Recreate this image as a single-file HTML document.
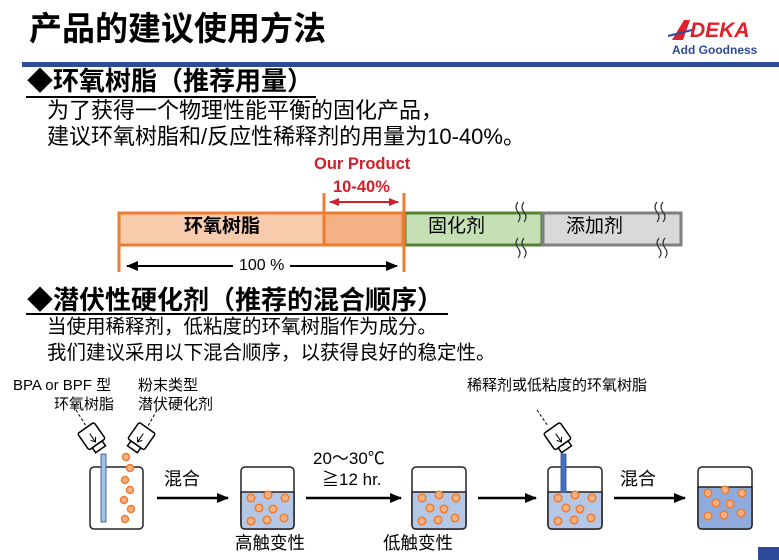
<!DOCTYPE html>
<html><head><meta charset="utf-8"><style>
body{margin:0;width:779px;height:560px;background:#fff;overflow:hidden;position:relative;font-family:"Liberation Sans","Noto Sans CJK SC",sans-serif;color:#000}
.t{position:absolute;white-space:nowrap;line-height:1;z-index:2}
svg{position:absolute;left:0;top:0;z-index:1}
</style></head><body>
<svg width="779" height="560">
<defs><marker id="a" markerUnits="userSpaceOnUse" markerWidth="12" markerHeight="12" refX="11" refY="6" orient="auto"><path d="M0,1L12,6L0,11z" fill="#000"/></marker>
<marker id="as" markerUnits="userSpaceOnUse" markerWidth="12" markerHeight="12" refX="1" refY="6" orient="auto"><path d="M12,1L0,6L12,11z" fill="#000"/></marker>
<marker id="r" markerUnits="userSpaceOnUse" markerWidth="10" markerHeight="10" refX="9" refY="5" orient="auto"><path d="M0,1L10,5L0,9z" fill="#d0202a"/></marker>
<marker id="rs" markerUnits="userSpaceOnUse" markerWidth="10" markerHeight="10" refX="1" refY="5" orient="auto"><path d="M10,1L0,5L10,9z" fill="#d0202a"/></marker>
<g id="d"><circle cx="10" cy="31" r="3.8"/><circle cx="27" cy="28" r="3.8"/><circle cx="44" cy="31" r="3.8"/><circle cx="18" cy="41" r="3.8"/><circle cx="32" cy="42" r="3.8"/><circle cx="10" cy="54" r="3.8"/><circle cx="26" cy="53" r="3.8"/><circle cx="43" cy="51" r="3.8"/></g>
</defs>
<path d="M672,40 L684,20 L690,20 L683,40 Z" fill="#e0202a"/>
<path d="M668,36 L692,30" stroke="#2e4a9a" stroke-width="2"/>
<rect x="119" y="213" width="205" height="32" fill="#f8cbad" stroke="#ed7d31" stroke-width="3"/>
<rect x="324" y="213" width="79" height="32" fill="#f4b183" stroke="#ed7d31" stroke-width="3"/>
<rect x="405" y="213" width="137" height="32" fill="#c5e0b4" stroke="#548235" stroke-width="3"/>
<rect x="543" y="213" width="138" height="32" fill="#d9d9d9" stroke="#7f7f7f" stroke-width="3"/>
<g stroke="#ed7d31" stroke-width="3"><line x1="119" y1="245" x2="119" y2="272"/><line x1="324" y1="193" x2="324" y2="245"/><line x1="404" y1="193" x2="404" y2="272"/></g>
<line x1="330" y1="202" x2="398" y2="202" stroke="#d0202a" stroke-width="2" marker-end="url(#r)" marker-start="url(#rs)"/>
<line x1="127" y1="266" x2="397" y2="266" stroke="#000" stroke-width="2" marker-end="url(#a)" marker-start="url(#as)"/>
<g fill="none" stroke="#333" stroke-width="1.2">
<path d="M518,202 q-4,5 0,10 q4,5 0,10 M524,202 q-4,5 0,10 q4,5 0,10"/>
<path d="M518,238 q-4,5 0,10 q4,5 0,10 M524,238 q-4,5 0,10 q4,5 0,10"/>
<path d="M657,202 q-4,5 0,10 q4,5 0,10 M663,202 q-4,5 0,10 q4,5 0,10"/>
<path d="M659,238 q-4,5 0,10 q4,5 0,10 M665,238 q-4,5 0,10 q4,5 0,10"/></g>
<g stroke="#000" stroke-width="1.5" fill="#fff">
<g transform="translate(92,437) rotate(-35)"><rect x="-10" y="-11" width="20" height="20" rx="2"/><rect x="-6" y="9" width="12" height="6"/><path d="M0,-4L0,5M-3,2L0,6L3,2" fill="none" stroke-width="1"/></g>
<g transform="translate(141,437) rotate(35)"><rect x="-10" y="-11" width="20" height="20" rx="2"/><rect x="-6" y="9" width="12" height="6"/><path d="M0,-4L0,5M-3,2L0,6L3,2" fill="none" stroke-width="1"/></g>
<g transform="translate(558,437) rotate(-35)"><rect x="-10" y="-11" width="20" height="20" rx="2"/><rect x="-6" y="9" width="12" height="6"/><path d="M0,-4L0,5M-3,2L0,6L3,2" fill="none" stroke-width="1"/></g>
</g>
<g stroke="#000" stroke-dasharray="3,2" stroke-width="1"><line x1="76" y1="410" x2="86" y2="426"/><line x1="157" y1="410" x2="148" y2="426"/><line x1="537" y1="410" x2="548" y2="426"/></g>
<rect x="90" y="467" width="53" height="62" rx="4" fill="#fff" stroke="#222" stroke-width="1.5"/>
<rect x="101" y="454" width="5" height="68" fill="#9dc3e6" stroke="#2e4a9a" stroke-width="0.8"/>
<g fill="#f4b183" stroke="#ed7d31" stroke-width="1.5">
<circle cx="126" cy="457" r="3.5"/><circle cx="130" cy="468" r="3.5"/><circle cx="125" cy="480" r="3.5"/><circle cx="130" cy="490" r="3.5"/><circle cx="124" cy="500" r="3.5"/><circle cx="131" cy="509" r="3.5"/><circle cx="125" cy="519" r="3.5"/></g>
<g stroke="#222" stroke-width="1.5">
<rect x="241" y="467" width="53" height="62" rx="4" fill="#fff"/><path d="M241,492 H294 V525 q0,4 -4,4 H245 q-4,0 -4,-4Z" fill="#b4c7e7"/>
<rect x="412" y="467" width="54" height="62" rx="4" fill="#fff"/><path d="M412,492 H466 V525 q0,4 -4,4 H416 q-4,0 -4,-4Z" fill="#b4c7e7"/>
<rect x="548" y="467" width="54" height="62" rx="4" fill="#fff"/><path d="M548,492 H602 V525 q0,4 -4,4 H552 q-4,0 -4,-4Z" fill="#b4c7e7"/>
<rect x="698" y="467" width="54" height="62" rx="4" fill="#fff"/><path d="M698,487 H752 V525 q0,4 -4,4 H702 q-4,0 -4,-4Z" fill="#8faadc"/>
</g>
<rect x="561" y="454" width="5" height="38" fill="#4472c4" stroke="#2e4a9a" stroke-width="0.8"/>
<g fill="#f4b183" stroke="#ed7d31" stroke-width="1.5">
<use href="#d" x="241" y="467"/><use href="#d" x="412" y="467"/><use href="#d" x="548" y="467"/><use href="#d" x="698" y="462"/>
</g>
<g stroke="#000" stroke-width="2.5"><line x1="157" y1="498" x2="228" y2="498" marker-end="url(#a)"/><line x1="306" y1="498" x2="401" y2="498" marker-end="url(#a)"/><line x1="478" y1="498" x2="536" y2="498" marker-end="url(#a)"/><line x1="614" y1="498" x2="685" y2="498" marker-end="url(#a)"/></g>
</svg>
<div class="t" style="left:29px;top:12px;font-size:33px;font-weight:bold">产品的建议使用方法</div>
<div class="t" style="left:672px;top:44px;font-size:12px;font-weight:bold;color:#2e4a9a">Add Goodness</div>
<div class="t" style="left:690px;top:20px;font-size:21px;font-weight:bold;font-style:italic;color:#e0202a">DEKA</div>
<div style="position:absolute;left:22px;top:62px;width:757px;height:5px;background:#2e4a9a"></div>
<div class="t" style="left:27px;top:68px;font-size:26px;font-weight:bold">◆环氧树脂（推荐用量）</div>
<div style="position:absolute;left:26px;top:96px;width:290px;height:2px;background:#000"></div>
<div class="t" style="left:47px;top:100px;font-size:22px">为了获得一个物理性能平衡的固化产品，</div>
<div class="t" style="left:47px;top:126px;font-size:22px">建议环氧树脂和/反应性稀释剂的用量为10-40%。</div>
<div class="t" style="left:314px;top:156px;font-size:16.5px;font-weight:bold;color:#d0202a">Our Product</div>
<div class="t" style="left:333px;top:179px;font-size:16.5px;font-weight:bold;color:#d0202a">10-40%</div>
<div class="t" style="left:184px;top:217px;font-size:19px;font-weight:bold">环氧树脂</div>
<div class="t" style="left:428px;top:217px;font-size:19px">固化剂</div>
<div class="t" style="left:566px;top:217px;font-size:19px">添加剂</div>
<div class="t" style="left:233px;top:258px;font-size:16px;background:#fff;padding:0 6px">100 %</div>
<div class="t" style="left:27px;top:287px;font-size:26px;font-weight:bold">◆潜伏性硬化剂（推荐的混合顺序）</div>
<div style="position:absolute;left:26px;top:313px;width:422px;height:2px;background:#000"></div>
<div class="t" style="left:47px;top:318px;font-size:19.5px">当使用稀释剂，低粘度的环氧树脂作为成分。</div>
<div class="t" style="left:47px;top:344px;font-size:19.5px">我们建议采用以下混合顺序，以获得良好的稳定性。</div>
<div class="t" style="left:13px;top:378px;font-size:15px">BPA or BPF 型</div>
<div class="t" style="left:54px;top:397px;font-size:15px">环氧树脂</div>
<div class="t" style="left:138px;top:378px;font-size:15px">粉末类型</div>
<div class="t" style="left:138px;top:397px;font-size:15px">潜伏硬化剂</div>
<div class="t" style="left:467px;top:378px;font-size:15px">稀释剂或低粘度的环氧树脂</div>
<div class="t" style="left:164px;top:470px;font-size:18px">混合</div>
<div class="t" style="left:313px;top:450px;font-size:17px">20～30℃</div>
<div class="t" style="left:322px;top:471px;font-size:17px">≧12 hr.</div>
<div class="t" style="left:620px;top:470px;font-size:18px">混合</div>
<div class="t" style="left:235px;top:535px;font-size:17.5px">高触变性</div>
<div class="t" style="left:383px;top:535px;font-size:17.5px">低触变性</div>
<div style="position:absolute;left:758px;top:547px;width:21px;height:13px;background:#2e4a9a"></div>
</body></html>
